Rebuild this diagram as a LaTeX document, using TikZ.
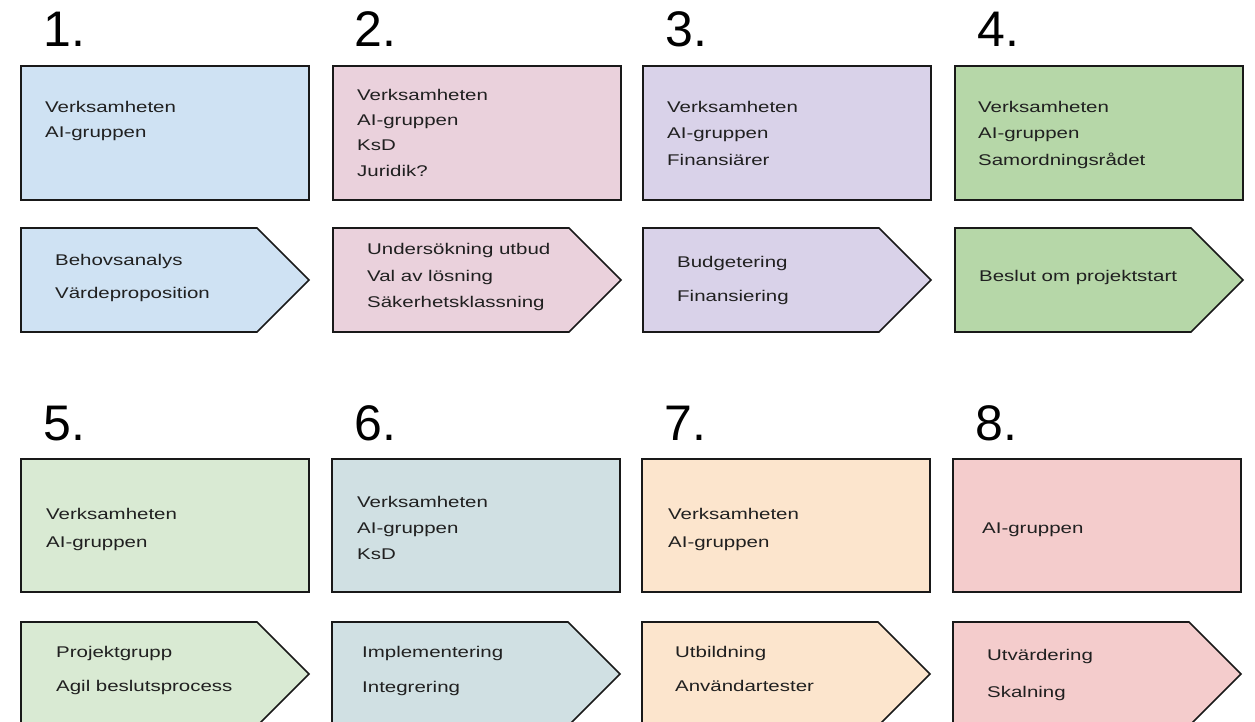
\documentclass[tikz,border=0pt]{standalone}
\usepackage{fontspec}
\setmainfont{Liberation Sans}
\newfontfamily\boxfont[FakeStretch=1.32]{Liberation Sans}
\definecolor{c1}{HTML}{CFE2F3}
\definecolor{c2}{HTML}{EAD1DC}
\definecolor{c3}{HTML}{D9D2E9}
\definecolor{c4}{HTML}{B6D7A8}
\definecolor{c5}{HTML}{D9EAD3}
\definecolor{c6}{HTML}{D0E0E3}
\definecolor{c7}{HTML}{FCE5CD}
\definecolor{c8}{HTML}{F4CCCC}
\definecolor{txt}{HTML}{202020}
\begin{document}
\begin{tikzpicture}[x=1pt,y=-1pt,
  outline/.style={draw=black!90,line width=1.6pt,line join=miter},
  numlabel/.style={anchor=base west,inner sep=0pt,font=\fontsize{50}{50}\selectfont,text=black},
  ln/.style={anchor=base west,inner sep=0pt,font=\boxfont\fontsize{15.5}{20}\selectfont,text=txt}]
\useasboundingbox (0,0) rectangle (1255,722);
% ---------- numbers ----------
\node[numlabel] (n1) at (43,47) {1.};
\node[numlabel] (n2) at (354,47) {2.};
\node[numlabel] (n3) at (665,47) {3.};
\node[numlabel] (n4) at (977,47) {4.};
\node[numlabel] (n5) at (43,440) {5.};
\node[numlabel] (n6) at (354,440) {6.};
\node[numlabel] (n7) at (664,440) {7.};
\node[numlabel] (n8) at (975,440) {8.};
% ---------- rectangles row 1 ----------
\draw[outline,fill=c1] (21,66) rectangle (309,200);
\draw[outline,fill=c2] (333,66) rectangle (621,200);
\draw[outline,fill=c3] (643,66) rectangle (931,200);
\draw[outline,fill=c4] (955,66) rectangle (1243,200);
% ---------- pentagons row 1 ----------
\draw[outline,fill=c1] (21,228) -- (257,228) -- (309,280) -- (257,332) -- (21,332) -- cycle;
\draw[outline,fill=c2] (333,228) -- (569,228) -- (621,280) -- (569,332) -- (333,332) -- cycle;
\draw[outline,fill=c3] (643,228) -- (879,228) -- (931,280) -- (879,332) -- (643,332) -- cycle;
\draw[outline,fill=c4] (955,228) -- (1191,228) -- (1243,280) -- (1191,332) -- (955,332) -- cycle;
% ---------- rectangles row 2 ----------
\draw[outline,fill=c5] (21,459) rectangle (309,592);
\draw[outline,fill=c6] (332,459) rectangle (620,592);
\draw[outline,fill=c7] (642,459) rectangle (930,592);
\draw[outline,fill=c8] (953,459) rectangle (1241,592);
% ---------- pentagons row 2 ----------
\draw[outline,fill=c5] (21,622) -- (257,622) -- (309,674) -- (257,726) -- (21,726) -- cycle;
\draw[outline,fill=c6] (332,622) -- (568,622) -- (620,674) -- (568,726) -- (332,726) -- cycle;
\draw[outline,fill=c7] (642,622) -- (878,622) -- (930,674) -- (878,726) -- (642,726) -- cycle;
\draw[outline,fill=c8] (953,622) -- (1189,622) -- (1241,674) -- (1189,726) -- (953,726) -- cycle;
% ---------- texts row 1 rectangles ----------
\node[ln] (r1a) at (45,113) {Verksamheten};
\node[ln] (r1b) at (45,138) {AI-gruppen};
\node[ln] (r2a) at (357,101) {Verksamheten};
\node[ln] (r2b) at (357,126) {AI-gruppen};
\node[ln] (r2c) at (357,151) {KsD};
\node[ln] (r2d) at (357,177) {Juridik?};
\node[ln] (r3a) at (667,113) {Verksamheten};
\node[ln] (r3b) at (667,139) {AI-gruppen};
\node[ln] (r3c) at (667,166) {Finansiärer};
\node[ln] (r4a) at (978,113) {Verksamheten};
\node[ln] (r4b) at (978,139) {AI-gruppen};
\node[ln] (r4c) at (978,166) {Samordningsrådet};
% ---------- texts row 1 pentagons ----------
\node[ln] (p1a) at (55,265) {Behovsanalys};
\node[ln] (p1b) at (55,298) {Värdeproposition};
\node[ln] (p2a) at (367,254) {Undersökning utbud};
\node[ln] (p2b) at (367,281) {Val av lösning};
\node[ln] (p2c) at (367,307) {Säkerhetsklassning};
\node[ln] (p3a) at (677,267) {Budgetering};
\node[ln] (p3b) at (677,301) {Finansiering};
\node[ln] (p4a) at (979,281) {Beslut om projektstart};
% ---------- texts row 2 rectangles ----------
\node[ln] (r5a) at (46,519) {Verksamheten};
\node[ln] (r5b) at (46,547) {AI-gruppen};
\node[ln] (r6a) at (357,507) {Verksamheten};
\node[ln] (r6b) at (357,533) {AI-gruppen};
\node[ln] (r6c) at (357,559) {KsD};
\node[ln] (r7a) at (668,519) {Verksamheten};
\node[ln] (r7b) at (668,547) {AI-gruppen};
\node[ln] (r8a) at (982,533) {AI-gruppen};
% ---------- texts row 2 pentagons ----------
\node[ln] (p5a) at (56,657) {Projektgrupp};
\node[ln] (p5b) at (56,691) {Agil beslutsprocess};
\node[ln] (p6a) at (362,657) {Implementering};
\node[ln] (p6b) at (362,692) {Integrering};
\node[ln] (p7a) at (675,657) {Utbildning};
\node[ln] (p7b) at (675,691) {Användartester};
\node[ln] (p8a) at (987,660) {Utvärdering};
\node[ln] (p8b) at (987,697) {Skalning};
\end{tikzpicture}
\end{document}
